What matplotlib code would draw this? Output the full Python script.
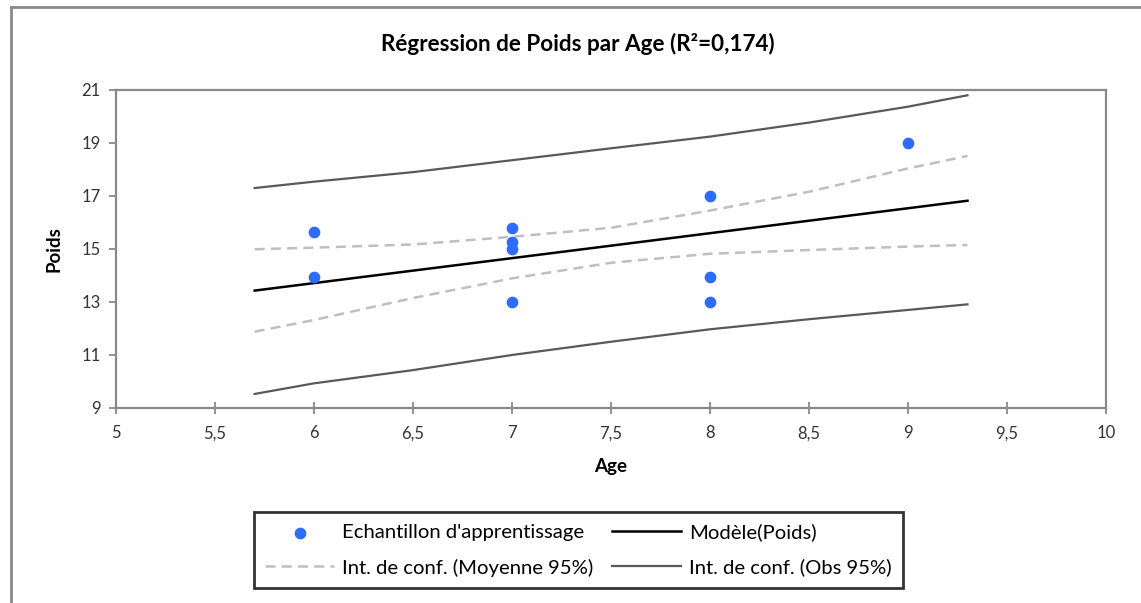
import matplotlib
matplotlib.use("Agg")
import matplotlib.pyplot as plt
from matplotlib.lines import Line2D

plt.rcParams['font.family'] = ['Lato', 'DejaVu Sans']

# training sample
age = [6, 6, 7, 7, 7, 7, 8, 8, 8, 9]
poids = [15.65, 13.95, 15.8, 15.25, 15.0, 13.0, 17.0, 13.95, 13.0, 19.0]

# model line
model_x = [5.7, 9.3]
model_y = [13.43, 16.82]

# confidence bands read along x
band_x = [5.7, 6.0, 6.5, 7.0, 7.5, 8.0, 8.5, 9.0, 9.3]
mean_up = [14.99, 15.05, 15.17, 15.46, 15.80, 16.45, 17.16, 18.04, 18.51]
mean_lo = [11.88, 12.32, 13.15, 13.89, 14.48, 14.82, 14.96, 15.09, 15.15]
obs_up = [17.30, 17.54, 17.90, 18.35, 18.80, 19.24, 19.77, 20.37, 20.80]
obs_lo = [9.53, 9.93, 10.43, 11.00, 11.50, 11.97, 12.35, 12.70, 12.91]

x_ticks = [5, 5.5, 6, 6.5, 7, 7.5, 8, 8.5, 9, 9.5, 10]
y_ticks = [9, 11, 13, 15, 17, 19, 21]

axis_grey = '#898989'

fig = plt.figure(figsize=(11.41, 6.03), dpi=100)
ax = fig.add_axes([0.1017, 0.3234, 0.8677, 0.5274])

pts = ax.scatter(age, poids, s=55, color='#2F6BFF', zorder=5,
                 label="Echantillon d'apprentissage")
m_line, = ax.plot(model_x, model_y, color='black', lw=1.8, label='Modèle(Poids)')
mu_line, = ax.plot(band_x, mean_up, color='#BFBFBF', lw=1.8, ls=(0, (4, 2.5)),
                   label='Int. de conf. (Moyenne 95%)')
ax.plot(band_x, mean_lo, color='#BFBFBF', lw=1.8, ls=(0, (4, 2.5)))
ob_line, = ax.plot(band_x, obs_up, color='#595959', lw=1.6,
                   label='Int. de conf. (Obs 95%)')
ax.plot(band_x, obs_lo, color='#595959', lw=1.6)

ax.set_xlim(5, 10)
ax.set_ylim(9, 21)
ax.set_xticks(x_ticks)
ax.set_xticklabels([str(v).replace('.', ',') for v in x_ticks])
ax.set_yticks(y_ticks)

for s in ax.spines.values():
    s.set_color(axis_grey)
    s.set_linewidth(1.6)
ax.tick_params(axis='x', direction='inout', length=9, width=1.3,
               color=axis_grey, labelsize=12, pad=8, labelcolor='#333333')
ax.tick_params(axis='y', direction='out', length=5, width=1.3,
               color=axis_grey, labelsize=12, pad=6, labelcolor='#333333')

ax.set_xlabel('Age', fontsize=13.5, fontweight='bold', labelpad=12)
ax.set_ylabel('Poids', fontsize=13.5, fontweight='bold', labelpad=14)

fig.text(0.506, 0.927, 'Régression de Poids par Age (R²=0,174)',
         ha='center', va='center', fontsize=16.2, fontweight='bold')

leg = fig.legend([pts, mu_line, m_line, ob_line],
                 [pts.get_label(), mu_line.get_label(), m_line.get_label(), ob_line.get_label()],
                 ncol=2, loc='center', bbox_to_anchor=(0.507, 0.088),
                 fontsize=14.6, frameon=True, fancybox=False, edgecolor='black',
                 handlelength=3.4, columnspacing=0.9, labelspacing=0.85,
                 borderpad=0.55, handletextpad=0.4)
leg.get_frame().set_linewidth(2)

# outer chart border (cropped)
fig.add_artist(Line2D([11 / 1141, 1], [1 - 7 / 603, 1 - 7 / 603],
                      transform=fig.transFigure, color=axis_grey, lw=2))
fig.add_artist(Line2D([11 / 1141, 11 / 1141], [0, 1 - 7 / 603],
                      transform=fig.transFigure, color=axis_grey, lw=2))

fig.savefig('out.png', dpi=100)
